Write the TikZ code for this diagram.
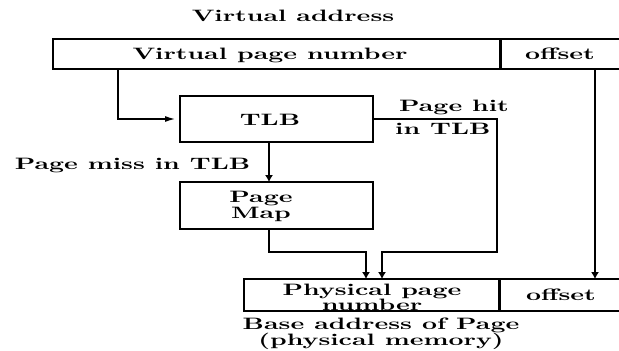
\documentclass[tikz,border=0pt]{standalone}
\usepackage{graphicx}
\usetikzlibrary{arrows.meta}
% bold serif text, stretched wide as in the printed figure
\newcommand\lab[1]{\scalebox{2.61}[1.65]{\fontsize{10}{12}\selectfont\bfseries #1}}

\begin{document}
\begin{tikzpicture}[x=1pt,y=-1pt,
  box/.style={draw=black, line width=1.2pt, rectangle, inner sep=0pt, outer sep=0pt},
  divider/.style={line width=3pt, black},
  wire/.style={draw=black, line width=1.2pt},
  varr/.style={-{Latex[length=7pt,width=8pt]}},
  harr/.style={-{Latex[length=10pt,width=6pt]}},
  lbl/.style={inner sep=0pt, anchor=base},
  lblw/.style={inner sep=0pt, anchor=base west}]
\useasboundingbox (0,0) rectangle (619,351);
\fill[white] (0,0) rectangle (619,351);
\clip (0,0) rectangle (619,351);

% address boxes
\node[box, minimum width=447pt, minimum height=30pt] (vpn)  at (276.5,54) {};
\node[box, minimum width=122pt, minimum height=30pt] (off1) at (561,54) {};
\node[box, minimum width=193pt, minimum height=46pt] (tlb)  at (276.5,119) {};
\node[box, minimum width=193pt, minimum height=47pt] (map)  at (276.5,205.5) {};
\node[box, minimum width=255pt, minimum height=32pt] (ppn)  at (371.5,295) {};
\node[box, minimum width=123pt, minimum height=32pt] (off2) at (560.5,295) {};
\draw[divider] (vpn.north east) -- (vpn.south east);
\draw[divider] (ppn.north east) -- (ppn.south east);

% texts
\node[lbl] (va)    at (293,21)  {\lab{Virtual address}};
\node[lbl] (vpnt)  at (270,59)  {\lab{Virtual page number}};
\node[lbl] (off1t) at (560,59)  {\lab{offset}};
\node[lbl] (tlbt)  at (270,125) {\lab{TLB}};
\node[lbl] (mapa)  at (261,202) {\lab{Page}};
\node[lbl] (mapb)  at (261,218.5) {\lab{Map}};
\node[lbl] (ppna)  at (372,295) {\lab{Physical page}};
\node[lbl] (ppnb)  at (372,310) {\lab{number}};
\node[lbl] (off2t) at (561,300) {\lab{offset}};
\node[lblw] (hita) at (399,111) {\lab{Page hit}};
\node[lblw] (hitb) at (395,134) {\lab{in TLB}};
\node[lbl] (miss)  at (132.5,169) {\lab{Page miss in TLB}};
\node[lbl] (basea) at (381,329) {\lab{Base address of Page}};
\node[lbl] (baseb) at (381,345) {\lab{(physical memory)}};

% routing columns and joints
\coordinate (tapx)  at (118,0);
\coordinate (missx) at (269,0);
\coordinate (hitx)  at (497,0);
\coordinate (offx)  at (595,0);
\coordinate (joinA) at (366,252);
\coordinate (joinB) at (382,252);

% connectors
\draw[wire, harr, shorten >=5pt] (vpn.south -| tapx) |- (tlb.west);
\draw[wire, varr] (tlb.south -| missx) -- (map.north -| missx);
\draw[wire, varr] (map.south -| missx) |- (joinA) -- (joinA |- ppn.north);
\draw[wire, varr] (tlb.east) -| (hitx |- joinB) -- (joinB) -- (joinB |- ppn.north);
\draw[wire, varr] (off1.south -| offx) -- (off2.north -| offx);
\end{tikzpicture}
\end{document}
